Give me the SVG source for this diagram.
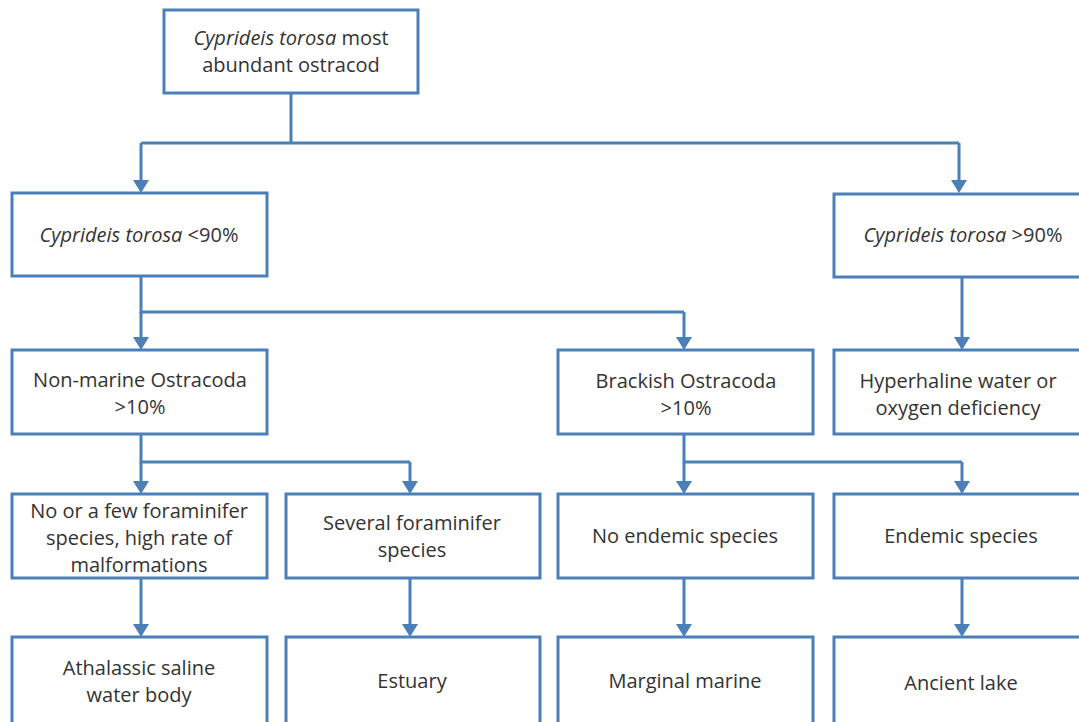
<svg xmlns="http://www.w3.org/2000/svg" width="1079" height="722" viewBox="0 0 1079 722">
<defs>
<style>
.box{fill:#ffffff;stroke:#4a7fb7;stroke-width:3}
.ln{fill:none;stroke:#4a7fb7;stroke-width:3}
.ah{fill:#4a7fb7}
.t{font-family:"Open Sans","Noto Sans","Liberation Sans",sans-serif;font-size:20px;fill:#333333;text-anchor:middle}
.i{font-style:italic}
</style>
</defs>
<rect width="1079" height="722" fill="#ffffff"/>
<g id="connectors">
<path class="ln" d="M291,93 V143 M141,143 H959"/>
<path class="ln" d="M141,143 V180"/>
<path class="ah" d="M133,180 H149 L141,193 Z"/>
<path class="ln" d="M959,143 V180"/>
<path class="ah" d="M951,180 H967 L959,193 Z"/>
<path class="ln" d="M141,276 V312 H684"/>
<path class="ln" d="M141,312 V337"/>
<path class="ah" d="M133,337 H149 L141,350 Z"/>
<path class="ln" d="M684,312 V337"/>
<path class="ah" d="M676,337 H692 L684,350 Z"/>
<path class="ln" d="M962,277 V337"/>
<path class="ah" d="M954,337 H970 L962,350 Z"/>
<path class="ln" d="M141,434 V462 H410"/>
<path class="ln" d="M141,462 V481"/>
<path class="ah" d="M133,481 H149 L141,494 Z"/>
<path class="ln" d="M410,462 V481"/>
<path class="ah" d="M402,481 H418 L410,494 Z"/>
<path class="ln" d="M684,434 V462 H962"/>
<path class="ln" d="M684,462 V481"/>
<path class="ah" d="M676,481 H692 L684,494 Z"/>
<path class="ln" d="M962,462 V481"/>
<path class="ah" d="M954,481 H970 L962,494 Z"/>
<path class="ln" d="M141,578 V624"/>
<path class="ah" d="M133,624 H149 L141,637 Z"/>
<path class="ln" d="M410,578 V624"/>
<path class="ah" d="M402,624 H418 L410,637 Z"/>
<path class="ln" d="M684,578 V624"/>
<path class="ah" d="M676,624 H692 L684,637 Z"/>
<path class="ln" d="M962,578 V624"/>
<path class="ah" d="M954,624 H970 L962,637 Z"/>
</g>
<g id="n-root">
<rect class="box" x="164" y="10" width="254" height="83"/>
<text class="t" x="291" y="45"><tspan class="i">Cyprideis torosa</tspan> most</text>
<text class="t" x="291" y="72">abundant ostracod</text>
</g>
<g id="n-lt90">
<rect class="box" x="12" y="193" width="255" height="83"/>
<text class="t" x="139" y="242"><tspan class="i">Cyprideis torosa</tspan> &lt;90%</text>
</g>
<g id="n-gt90">
<rect class="box" x="834" y="194" width="260" height="83"/>
<text class="t" x="963" y="242"><tspan class="i">Cyprideis torosa</tspan> &gt;90%</text>
</g>
<g id="n-nonmarine">
<rect class="box" x="12" y="350" width="255" height="84"/>
<text class="t" x="140" y="387">Non-marine Ostracoda</text>
<text class="t" x="140" y="414">&gt;10%</text>
</g>
<g id="n-brackish">
<rect class="box" x="558" y="350" width="255" height="84"/>
<text class="t" x="686" y="388">Brackish Ostracoda</text>
<text class="t" x="686" y="415">&gt;10%</text>
</g>
<g id="n-hyper">
<rect class="box" x="834" y="350" width="260" height="84"/>
<text class="t" x="958" y="388">Hyperhaline water or</text>
<text class="t" x="958" y="415">oxygen deficiency</text>
</g>
<g id="n-fewforam">
<rect class="box" x="12" y="494" width="255" height="84"/>
<text class="t" x="139" y="518">No or a few foraminifer</text>
<text class="t" x="139" y="545">species, high rate of</text>
<text class="t" x="139" y="572">malformations</text>
</g>
<g id="n-severalforam">
<rect class="box" x="286" y="494" width="254" height="84"/>
<text class="t" x="412" y="530">Several foraminifer</text>
<text class="t" x="412" y="557">species</text>
</g>
<g id="n-noendemic">
<rect class="box" x="558" y="494" width="255" height="84"/>
<text class="t" x="685" y="543">No endemic species</text>
</g>
<g id="n-endemic">
<rect class="box" x="834" y="494" width="260" height="84"/>
<text class="t" x="961" y="543">Endemic species</text>
</g>
<g id="n-athalassic">
<rect class="box" x="12" y="637" width="255" height="95"/>
<text class="t" x="139" y="675">Athalassic saline</text>
<text class="t" x="139" y="702">water body</text>
</g>
<g id="n-estuary">
<rect class="box" x="286" y="637" width="254" height="95"/>
<text class="t" x="412" y="688">Estuary</text>
</g>
<g id="n-marginal">
<rect class="box" x="558" y="637" width="255" height="95"/>
<text class="t" x="685" y="688">Marginal marine</text>
</g>
<g id="n-ancient">
<rect class="box" x="834" y="637" width="260" height="95"/>
<text class="t" x="961" y="690">Ancient lake</text>
</g>
</svg>
